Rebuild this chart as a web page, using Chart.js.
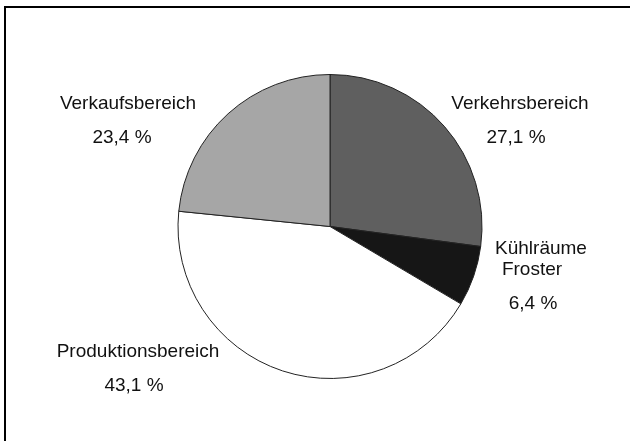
<!DOCTYPE html>
<html>
<head>
<meta charset="utf-8">
<script src="https://cdn.jsdelivr.net/npm/chart.js@4"></script>
<style>
  html, body { margin: 0; padding: 0; background: #fff; }
  #wrap { width: 630px; height: 441px; position: relative; }
</style>
</head>
<body>
<div id="wrap"><canvas id="pieChart" width="630" height="441"></canvas></div>
<script>
// Data
const categories = ['Verkehrsbereich', ['Kühlräume', 'Froster'], 'Produktionsbereich', 'Verkaufsbereich'];
const shares = [27.1, 6.4, 43.1, 23.4];
const sliceColors = ['#5f5f5f', '#161616', '#ffffff', '#a6a6a6'];

// where each label block sits (centre x, first line y), per slice
const labelSpots = [
  {x: 520, y: 104},
  {x: 541, y: 249},
  {x: 138, y: 352},
  {x: 128, y: 104}
];

const fmt = (v) => v.toFixed(1).replace('.', ',') + ' %';

// outer frame (only top and left edges are inside the picture)
const framePlugin = {
  id: 'frame',
  beforeDraw(chart) {
    const ctx = chart.ctx;
    ctx.save();
    ctx.strokeStyle = '#000';
    ctx.lineWidth = 2;
    ctx.beginPath();
    ctx.moveTo(5, 460);
    ctx.lineTo(5, 7);
    ctx.lineTo(660, 7);
    ctx.stroke();
    ctx.restore();
  }
};

/** Draws the category name and the percentage next to each slice */
const sliceLabels = {
  id: 'sliceLabels',
  afterDraw(chart) {
    const ctx = chart.ctx;
    ctx.save();
    ctx.fillStyle = '#111';
    ctx.font = '19px "Liberation Sans", Arial, sans-serif';
    ctx.textAlign = 'center';
    ctx.textBaseline = 'middle';
    chart.data.labels.forEach((lab, i) => {
      const spot = labelSpots[i];
      const lines = Array.isArray(lab) ? lab : [lab];
      let y = spot.y;
      lines.forEach((ln, k) => {
        ctx.fillText(ln, spot.x + (k > 0 ? -9 : 0), y);
        y += 21;
      });
      y += 13;
      ctx.fillText(fmt(chart.data.datasets[0].data[i]), spot.x + (lines.length > 1 ? -8 : (i === 3 ? -6 : -4)), y);
    });
    ctx.restore();
  }
};

new Chart(document.getElementById('pieChart'), {
  type: 'pie',
  data: {
    labels: categories,
    datasets: [{
      data: shares,
      backgroundColor: sliceColors,
      borderColor: '#222',
      borderWidth: 1
    }]
  },
  options: {
    responsive: false,
    animation: false,
    layout: { padding: { top: 74, bottom: 62, left: 176, right: 146 } },
    plugins: {
      legend: { display: false },
      tooltip: { enabled: false }
    }
  },
  plugins: [framePlugin, sliceLabels]
});
</script>
</body>
</html>
